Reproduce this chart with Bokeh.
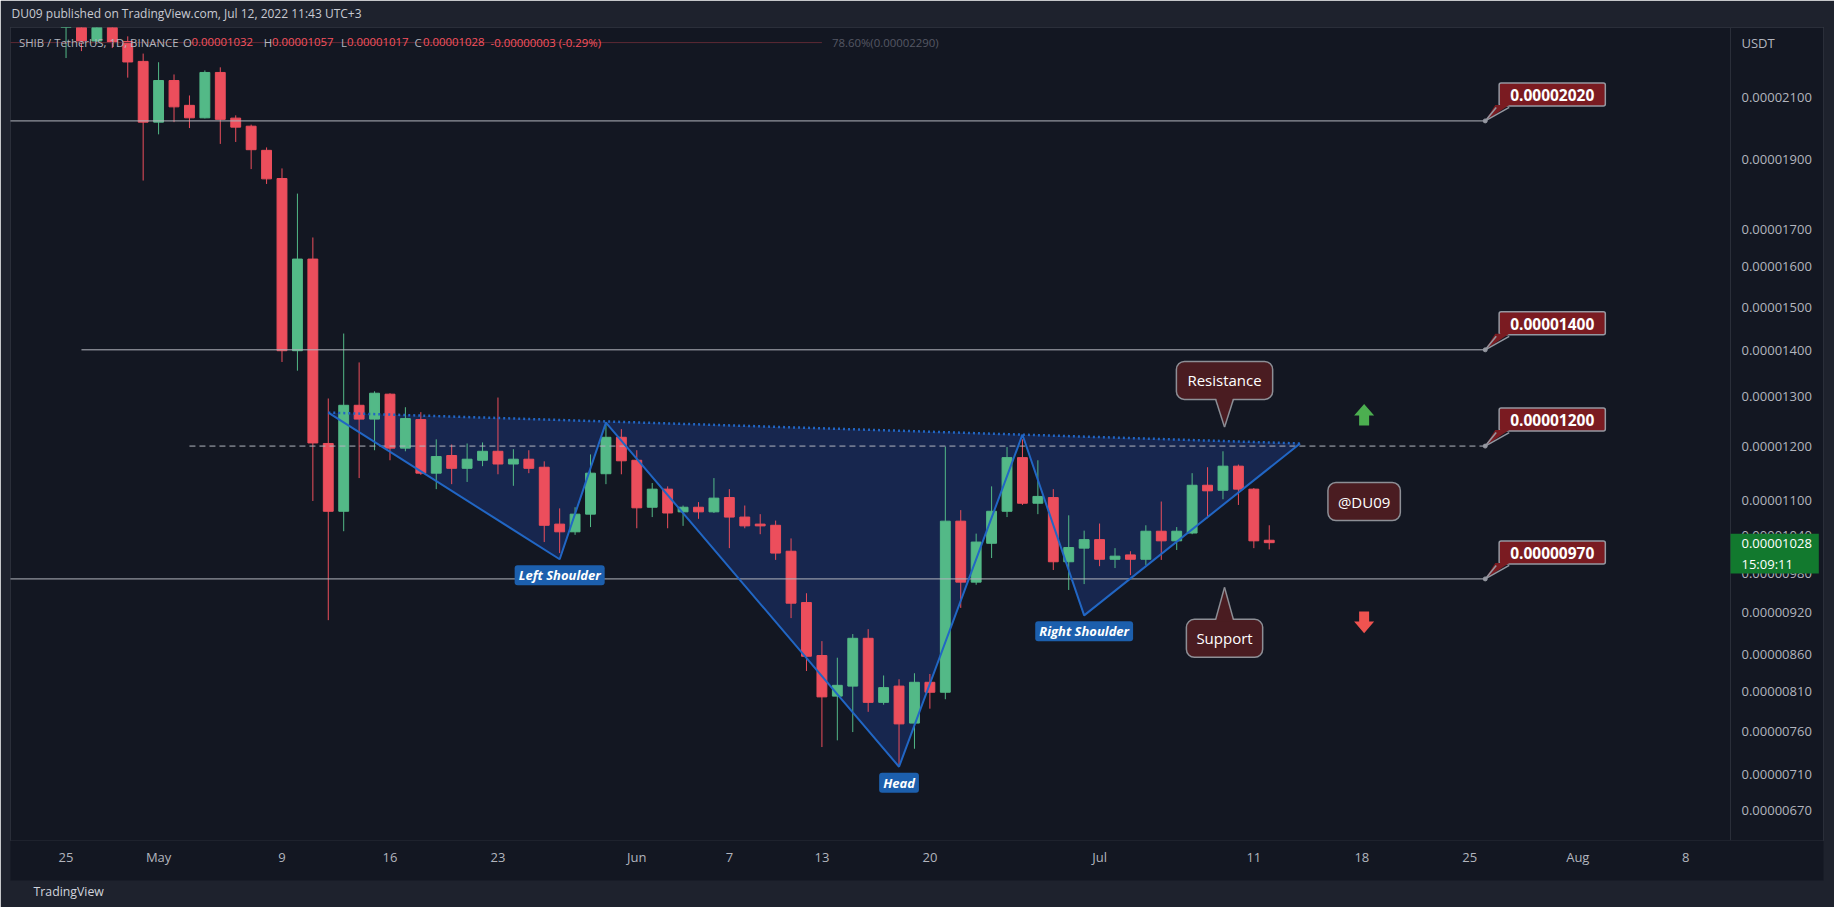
import math
import numpy as np
import pandas as pd
from bokeh.plotting import figure
from bokeh.models import Range1d, FixedTicker, PrintfTickFormatter, Label, ColumnDataSource, Span, Title
from bokeh.embed import file_html
from bokeh.resources import INLINE

E = 1e-8  # prices below are written in units of 1e-8 USDT
base = pd.Timestamp("2022-04-25")


def day(s):
    return (pd.Timestamp(s) - base).days


# ---------------- data ----------------
dates = pd.date_range("2022-04-25", "2022-07-12", freq="D")
open_e8 = [2380, 2440, 2296, 2400, 2294, 2222, 2016, 2155, 2071, 2030,
           2183, 2029, 2003, 1927, 1842, 1398, 1619, 1205, 1081, 1281,
           1253, 1304, 1196, 1252, 1149, 1182, 1158, 1173, 1190, 1166,
           1175, 1160, 1059, 1046, 1076, 1148, 1217, 1173, 1088, 1120,
           1080, 1088, 1080, 1105, 1071, 1059, 1057, 1014, 934, 858,
           804, 817, 882, 796, 817, 770, 822, 809, 1064, 965,
           1027, 1081, 1178, 1095, 1105, 997, 1019, 1033, 1001, 1008,
           1001, 1047, 1031, 1044, 1127, 1118, 1162, 1120, 1032]
high_e8 = [2480, 2470, 2430, 2420, 2313, 2250, 2219, 2176, 2104, 2190,
           2201, 2038, 2008, 1936, 1872, 1798, 1676, 1295, 1437, 1372,
           1310, 1306, 1277, 1267, 1213, 1203, 1205, 1207, 1297, 1194,
           1192, 1171, 1086, 1088, 1184, 1247, 1233, 1192, 1131, 1125,
           1091, 1097, 1140, 1120, 1091, 1076, 1065, 1035, 948, 878,
           855, 888, 895, 831, 826, 834, 833, 1199, 1083, 1043,
           1125, 1198, 1213, 1173, 1120, 1074, 1048, 1060, 1019, 1014,
           1057, 1098, 1054, 1149, 1160, 1190, 1165, 1122, 1057]
low_e8 = [2234, 2259, 2285, 2270, 2165, 1836, 1977, 2016, 1997, 2028,
          1947, 1953, 1870, 1826, 1373, 1354, 1099, 908, 1047, 1140,
          1192, 1173, 1190, 1146, 1120, 1129, 1133, 1162, 1147, 1126,
          1149, 1029, 1011, 1041, 1054, 1129, 1147, 1052, 1071, 1052,
          1056, 1068, 1078, 1019, 1052, 1042, 1000, 911, 837, 741,
          749, 759, 784, 793, 718, 739, 788, 800, 926, 961,
          1003, 1071, 1092, 1076, 984, 953, 962, 990, 987, 976,
          992, 1000, 1016, 1042, 1069, 1102, 1092, 1019, 1017]
close_e8 = [2440, 2296, 2400, 2290, 2220, 2016, 2155, 2066, 2030, 2183,
            2025, 2000, 1929, 1841, 1398, 1619, 1206, 1081, 1281, 1253,
            1306, 1196, 1254, 1149, 1180, 1158, 1175, 1190, 1166, 1175,
            1158, 1057, 1046, 1076, 1149, 1217, 1172, 1087, 1120, 1078,
            1088, 1080, 1104, 1071, 1056, 1056, 1011, 933, 857, 803,
            818, 882, 796, 815, 769, 822, 809, 1064, 965, 1029,
            1081, 1178, 1095, 1107, 997, 1020, 1033, 1001, 1006, 1001,
            1047, 1031, 1047, 1127, 1117, 1162, 1120, 1031, 1028]

ytick_e8 = [670, 710, 760, 810, 860, 920, 980, 1040, 1100, 1200, 1300,
            1400, 1500, 1600, 1700, 1900, 2100]
xtick_dates = ["2022-04-25", "2022-05-01", "2022-05-09", "2022-05-16", "2022-05-23",
               "2022-06-01", "2022-06-07", "2022-06-13", "2022-06-20", "2022-07-01",
               "2022-07-11", "2022-07-18", "2022-07-25", "2022-08-01", "2022-08-08"]

level_e8 = [2020, 1400, 1200, 970]
level_start = ["2022-04-20", "2022-04-26", "2022-05-03", "2022-04-20"]
level_dashed = [False, False, True, False]
level_end = "2022-07-26"

hs_dates = ["2022-05-12", "2022-05-27", "2022-05-30", "2022-06-18",
            "2022-06-26", "2022-06-30", "2022-07-14"]
hs_e8 = [1266, 1001, 1246, 718, 1222, 915, 1205]
hs_names = {1: "Left Shoulder", 3: "Head", 5: "Right Shoulder"}

fib_e8 = 2290
fib_end = "2022-06-13"

# ---------------- geometry ----------------
W, H = 1834, 907
FL, FT, FR, FB = 10, 27, 1823, 840      # frame includes the price-scale column
SCALE_X = 1730                          # left edge of the price-scale column
X0 = -3.6
PPD = (SCALE_X - FL) / 111.5
X1 = X0 + (FR - FL) / PPD
Y0, Y1 = 638 * E, 2346 * E
PPL = (FB - FT) / math.log(Y1 / Y0)


def cx(px):
    return X0 + (px - FL) / PPD


def cy(py):
    return Y1 * math.exp(-(py - FT) / PPL)


def dx(px):
    return px / PPD


def up(v, px):
    return v * math.exp(px / PPL)


GREEN = "#53b987"
RED = "#ec4e5c"
BLUE = "#2166c4"
FONT = "Open Sans"

p = figure(width=W, height=H, x_range=Range1d(X0, X1), y_range=Range1d(Y0, Y1),
           y_axis_type="log", y_axis_location="right", output_backend="svg",
           toolbar_location=None, min_border_left=FL, min_border_right=W - FR,
           min_border_top=FT, min_border_bottom=H - FB)
p.background_fill_color = "#131722"
p.border_fill_color = "#1e222d"
p.outline_line_color = "#2a2e39"
p.xgrid.visible = False
p.ygrid.visible = False

p.title.text = "DU09 published on TradingView.com, Jul 12, 2022 11:43 UTC+3"
p.title.align = "left"
p.title.vertical_align = "top"
p.title.text_font = FONT
p.title.text_font_size = "12px"
p.title.text_font_style = "normal"
p.title.text_color = "#c8cad2"
p.title.standoff = 8
p.title.offset = 1

yax = p.yaxis[0]
xax = p.xaxis[0]
usdt_pos = fib_e8 * E
yax.ticker = FixedTicker(ticks=[v * E for v in ytick_e8] + [usdt_pos])
yax.formatter = PrintfTickFormatter(format="%.8f")
yax.major_label_overrides = {usdt_pos: "USDT"}
xpos = [day(s) for s in xtick_dates]
xax.ticker = FixedTicker(ticks=xpos)
xax.major_label_overrides = {
    pos: (pd.Timestamp(s).strftime("%b") if pd.Timestamp(s).day == 1 else str(pd.Timestamp(s).day))
    for pos, s in zip(xpos, xtick_dates)}
for ax in (yax, xax):
    ax.major_tick_out = 0
    ax.major_tick_in = 0
    ax.minor_tick_out = 0
    ax.minor_tick_in = 0
    ax.axis_line_color = None
    ax.major_label_text_color = "#b2b5be"
    ax.major_label_text_font = FONT
    ax.major_label_text_font_size = "13px"
# price labels drawn inside the price-scale column of the frame
yax.major_label_standoff = -(FR - 1741)
xax.major_label_standoff = 7
xax.axis_label = "\u00a0"
xax.axis_label_text_font_size = "8px"
xax.axis_label_standoff = 0
if "background_fill_color" in xax.properties():
    xax.background_fill_color = "#131722"

p.add_layout(Title(text="TradingView", align="left", text_font=FONT, text_font_size="12.3px",
                   text_font_style="normal", text_color="#d1d4dc", standoff=0, offset=23),
             "below")

# separator between pane and price scale
p.add_layout(Span(location=cx(SCALE_X), dimension="height", line_color="#2a2e39", line_width=1))

# ---------------- pattern fill ----------------
hx = [day(s) for s in hs_dates]
hy = [v * E for v in hs_e8]
p.patch(hx, hy, fill_color="#2962ff", fill_alpha=0.2, line_color=None)

# ---------------- candles ----------------
x = np.array([(d - base).days for d in dates], dtype=float)
o = np.array(open_e8) * E
h = np.array(high_e8) * E
l = np.array(low_e8) * E
c = np.array(close_e8) * E
col = np.where(c >= o, GREEN, RED)
src = ColumnDataSource(dict(x=x, h=h, l=l, top=np.maximum(o, c), bottom=np.minimum(o, c), color=col))
p.segment("x", "h", "x", "l", source=src, line_color="color", line_width=1)
p.vbar(x="x", width=0.64, top="top", bottom="bottom", source=src,
       fill_color="color", line_color="color", line_width=1)

# ---------------- fib level ----------------
p.segment([X0 - 5], [fib_e8 * E], [day(fib_end)], [fib_e8 * E], line_color="#5d2a35", line_width=1)

# ---------------- horizontal levels ----------------
xe = day(level_end)
for lv, s, dashed in zip(level_e8, level_start, level_dashed):
    p.segment([day(s)], [lv * E], [xe], [lv * E], line_color="#b2b5be", line_width=1,
              line_dash="6 4" if dashed else "solid")

# ---------------- pattern lines ----------------
p.line(hx, hy, line_color=BLUE, line_width=2)
p.line([hx[0], hx[-1]], [hy[0], hy[-1]], line_color=BLUE, line_width=2.5, line_dash="2 3")


def lab(xv, yv, text, **kw):
    kwargs = dict(x=xv, y=yv, text=text, text_font=FONT, text_align="left",
                  text_baseline="middle")
    kwargs.update(kw)
    lb = Label(**kwargs)
    p.add_layout(lb)
    return lb


for i, name in hs_names.items():
    lab(hx[i], hy[i], name, y_offset=-16, text_align="center", text_color="white",
        text_font_style="bold italic", text_font_size="13px",
        background_fill_color="#1c5fad", border_radius=3,
        padding=dict(left=4, right=4, top=1, bottom=1))

# ---------------- price callouts ----------------
PL_FILL = "#7a1b21"
GRAY = "#9598a1"
for lv in level_e8:
    yv = lv * E
    lab(xe, yv, f"{yv:.8f}", x_offset=67, y_offset=26.5, text_align="center",
        text_color="white", text_font_style="bold", text_font_size="15.5px",
        background_fill_color=PL_FILL, border_line_color=GRAY, border_line_width=1.5,
        border_radius=2, padding=dict(left=11, right=11, top=6, bottom=5))
    p.patch([xe, xe + dx(10), xe + dx(24)], [yv, up(yv, 16), up(yv, 16)],
            fill_color=PL_FILL, line_color=None, level="overlay")
    p.multi_line([[xe, xe + dx(11)], [xe, xe + dx(24)]],
                 [[yv, up(yv, 13.5)], [yv, up(yv, 13.5)]],
                 line_color=GRAY, line_width=1.5, level="overlay")
    p.scatter([xe], [yv], size=4, color=GRAY, level="overlay")

# ---------------- text callouts ----------------
CL_FILL = "#4a1c21"
CL_LINE = "#8d8f96"
call_x = 75.1
res_tip = 1237 * E
sup_tip = 957 * E
lab(call_x, res_tip, "Resistance", y_offset=46.7, text_align="center", text_color="white",
    text_font_size="15px", background_fill_color=CL_FILL, border_line_color=CL_LINE,
    border_line_width=1.5, border_radius=8, padding=dict(left=11, right=11, top=9, bottom=9))
p.patch([call_x - dx(9), call_x + dx(9), call_x], [up(res_tip, 30), up(res_tip, 30), res_tip],
        fill_color=CL_FILL, line_color=None, level="overlay")
p.multi_line([[call_x - dx(9), call_x], [call_x + dx(9), call_x]],
             [[up(res_tip, 28.2), res_tip], [up(res_tip, 28.2), res_tip]],
             line_color=CL_LINE, line_width=1.5, level="overlay")

lab(call_x, sup_tip, "Support", y_offset=-51, text_align="center", text_color="white",
    text_font_size="15px", background_fill_color=CL_FILL, border_line_color=CL_LINE,
    border_line_width=1.5, border_radius=8, padding=dict(left=10, right=10, top=9, bottom=9))
p.patch([call_x - dx(9), call_x + dx(9), call_x], [up(sup_tip, -34), up(sup_tip, -34), sup_tip],
        fill_color=CL_FILL, line_color=None, level="overlay")
p.multi_line([[call_x - dx(9), call_x], [call_x + dx(9), call_x]],
             [[up(sup_tip, -32.5), sup_tip], [up(sup_tip, -32.5), sup_tip]],
             line_color=CL_LINE, line_width=1.5, level="overlay")

lab(84.15, 1098 * E, "@DU09", text_align="center", text_color="white",
    text_font_size="15px", background_fill_color=CL_FILL, border_line_color=CL_LINE,
    border_line_width=1.5, border_radius=8, padding=dict(left=10, right=10, top=9, bottom=9))


# ---------------- arrows ----------------
def arrow(xc, yc, direction, color):
    pts = [(-5, -10), (5, -10), (5, 0), (10, 0), (0, 11.7), (-10, 0), (-5, 0)]
    p.patch([xc + dx(a) for a, b in pts], [up(yc, b * direction) for a, b in pts],
            fill_color=color, line_color=None)


arrow(84.15, 1260 * E, 1, "#4caf50")
arrow(84.15, 906 * E, -1, "#ef5350")

# ---------------- legend row ----------------
chg = close_e8[-1] - close_e8[-2]
pct = chg / close_e8[-2] * 100
LEG_GRAY = "#b2b5be"
LEG_RED = "#f7525f"
legend_parts = [
    ("SHIB / TetherUS, 1D, BINANCE", 18.4, LEG_GRAY),
    ("O", 182.5, LEG_GRAY), (f"{open_e8[-1] * E:.8f}", 191, LEG_RED),
    ("H", 263.3, LEG_GRAY), (f"{high_e8[-1] * E:.8f}", 271.5, LEG_RED),
    ("L", 340.5, LEG_GRAY), (f"{low_e8[-1] * E:.8f}", 346.5, LEG_RED),
    ("C", 414, LEG_GRAY), (f"{close_e8[-1] * E:.8f}", 422.5, LEG_RED),
    (f"{chg * E:.8f} ({pct:.2f}%)", 490, LEG_RED),
]
for txt, px, colr in legend_parts:
    lab(cx(px), cy(41.5), txt, text_color=colr, text_font_size="11.4px")
lab(day(fib_end) + dx(10), fib_e8 * E, f"78.60%({fib_e8 * E:.8f})", text_color="#555864",
    text_font_size="11.4px")

# last-price marker on the price scale
lab(cx(SCALE_X), c[-1], f"{c[-1]:.8f}\n15:09:11", y_offset=-11, text_color="white",
    text_font_size="13px", background_fill_color="#12792e",
    padding=dict(left=11, right=7, top=0, bottom=0))

open("out.html", "w").write(file_html(p, INLINE))
